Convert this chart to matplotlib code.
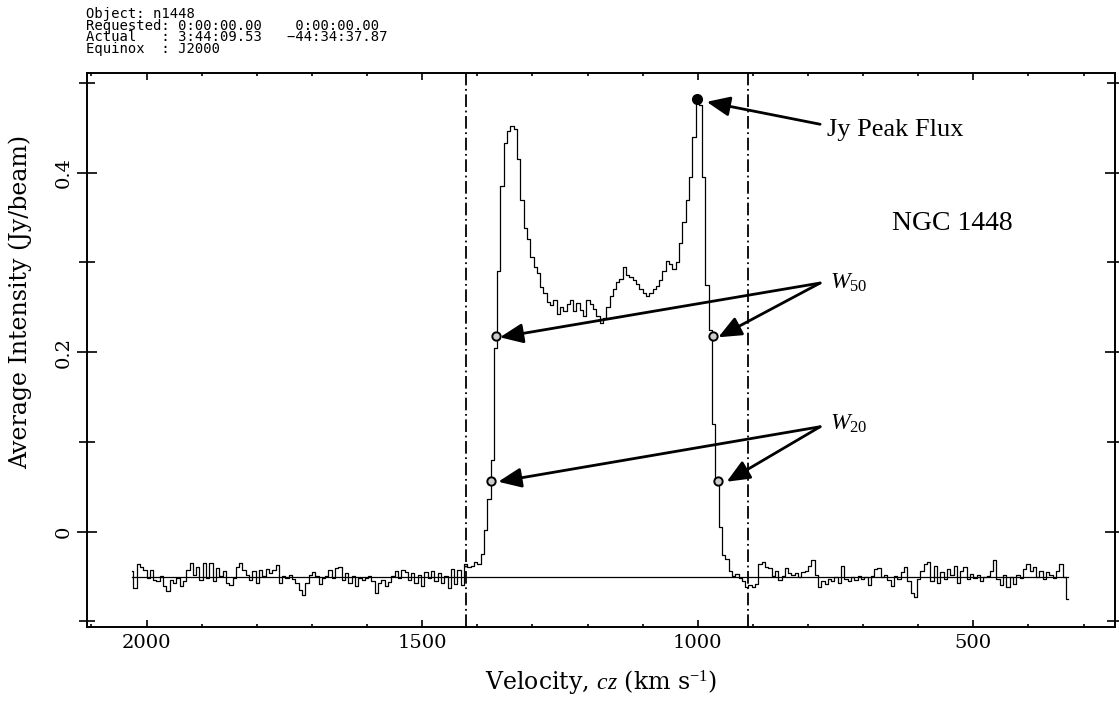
import numpy as np
import matplotlib.pyplot as plt

plt.rcParams['mathtext.fontset'] = 'custom'
plt.rcParams['mathtext.rm'] = 'Liberation Serif'
plt.rcParams['mathtext.it'] = 'Liberation Serif:italic'

# HI spectrum of NGC 1448, 6 km/s channels starting at 2027 km/s
v_first = 2027.0
dv = 6.0

# line-free channels on the high-velocity side (2027 -> 1427 km/s)
base_high = [
    -0.044, -0.063, -0.036, -0.039, -0.043, -0.052, -0.043, -0.054, -0.055, -0.050,
    -0.061, -0.066, -0.054, -0.057, -0.052, -0.061, -0.055, -0.043, -0.035, -0.048,
    -0.039, -0.054, -0.035, -0.052, -0.035, -0.055, -0.041, -0.050, -0.044, -0.057,
    -0.060, -0.052, -0.039, -0.035, -0.043, -0.048, -0.054, -0.044, -0.057, -0.043,
    -0.050, -0.042, -0.046, -0.043, -0.037, -0.057, -0.050, -0.052, -0.048, -0.053,
    -0.057, -0.065, -0.071, -0.057, -0.048, -0.045, -0.050, -0.059, -0.052, -0.050,
    -0.043, -0.052, -0.041, -0.040, -0.054, -0.046, -0.057, -0.050, -0.061, -0.052,
    -0.054, -0.052, -0.050, -0.055, -0.068, -0.057, -0.054, -0.061, -0.056, -0.050,
    -0.044, -0.052, -0.043, -0.045, -0.054, -0.046, -0.057, -0.048, -0.061, -0.045,
    -0.052, -0.044, -0.055, -0.046, -0.057, -0.050, -0.063, -0.042, -0.059, -0.043,
    -0.060,
]

# the double-horned profile (1421 -> 911 km/s)
profile = [
    -0.036, -0.040, -0.038, -0.034, -0.036, -0.025, 0.002, 0.036, 0.080, 0.205,
    0.290, 0.385, 0.433, 0.446, 0.452, 0.449, 0.415, 0.370, 0.338, 0.326,
    0.306, 0.295, 0.288, 0.273, 0.266, 0.256, 0.252, 0.258, 0.243, 0.250,
    0.246, 0.254, 0.258, 0.246, 0.255, 0.247, 0.240, 0.258, 0.254, 0.248,
    0.240, 0.232, 0.238, 0.250, 0.262, 0.270, 0.278, 0.282, 0.295, 0.286,
    0.284, 0.280, 0.276, 0.270, 0.266, 0.262, 0.266, 0.270, 0.274, 0.280,
    0.290, 0.302, 0.298, 0.293, 0.300, 0.322, 0.345, 0.370, 0.395, 0.440,
    0.482, 0.476, 0.395, 0.275, 0.225, 0.120, 0.060, 0.005, -0.026, -0.031,
    -0.044, -0.050, -0.047, -0.052, -0.055, -0.062,
]

# line-free channels on the low-velocity side (905 -> 329 km/s)
base_low = [
    -0.060, -0.062, -0.058, -0.036, -0.034, -0.039, -0.041, -0.050, -0.044, -0.054,
    -0.050, -0.041, -0.046, -0.048, -0.046, -0.051, -0.045, -0.044, -0.038, -0.032,
    -0.049, -0.062, -0.055, -0.058, -0.053, -0.055, -0.051, -0.057, -0.038, -0.053,
    -0.055, -0.051, -0.054, -0.050, -0.053, -0.051, -0.060, -0.050, -0.042, -0.041,
    -0.051, -0.049, -0.054, -0.061, -0.050, -0.053, -0.045, -0.039, -0.055, -0.068,
    -0.073, -0.053, -0.044, -0.036, -0.034, -0.055, -0.038, -0.057, -0.045, -0.053,
    -0.042, -0.049, -0.038, -0.057, -0.044, -0.039, -0.053, -0.047, -0.052, -0.049,
    -0.055, -0.051, -0.050, -0.044, -0.032, -0.053, -0.060, -0.049, -0.062, -0.051,
    -0.058, -0.048, -0.052, -0.042, -0.036, -0.044, -0.040, -0.051, -0.044, -0.053,
    -0.045, -0.049, -0.052, -0.044, -0.036, -0.051, -0.075,
]

baseline = -0.051
window = [1420, 909]          # velocity range used for the fit
peak_vel, peak_flux = 1001, 0.482
w50_vel = [1366.7, 973.0]
w50_flux = 0.218
w20_vel = [1375.8, 964.0]
w20_flux = 0.056

header = ("Object: n1448\n"
          "Requested: 0:00:00.00    0:00:00.00\n"
          "Actual   : 3:44:09.53   \u221244:34:37.87\n"
          "Equinox  : J2000")

flux = np.array(base_high + profile + base_low)
vel = v_first - dv * np.arange(flux.size)

W, H = 1119, 702
fig = plt.figure(figsize=(W / 100, H / 100), dpi=100)
ax = fig.add_axes([86.5 / W, 1 - 626.7 / H, (1115 - 86.5) / W, (626.7 - 73.3) / H])

ax.plot(vel, flux, drawstyle='steps-mid', color='k', lw=0.9)
ax.plot([vel[0], vel[-1]], [baseline, baseline], color='k', lw=0.9)
for v in window:
    ax.axvline(v, color='k', lw=1.3, ls=(0, (7, 2, 1, 2)))

# measured points
ax.plot(peak_vel, peak_flux, 'o', ms=7, mfc='k', mec='k', zorder=5)
ax.plot(w50_vel, [w50_flux] * 2, 'o', ms=6, mfc='0.8', mec='k', mew=1.4, zorder=5)
ax.plot(w20_vel, [w20_flux] * 2, 'o', ms=6, mfc='0.8', mec='k', mew=1.4, zorder=5)

ax.set_xlim(2109, 243)
ax.set_ylim(-0.1061, 0.5108)

# arrows and labels
arrow_kw = dict(arrowstyle='-|>,head_length=0.7,head_width=0.3', color='k',
                lw=2, shrinkA=0, shrinkB=0, mutation_scale=20)
ax.annotate('', xy=(983.8, 0.479), xytext=(778, 0.454), arrowprops=arrow_kw)
for tip in [1359, 962.8]:
    ax.annotate('', xy=(tip, 0.2165), xytext=(778, 0.277), arrowprops=arrow_kw)
for tip in [1362, 947.6]:
    ax.annotate('', xy=(tip, 0.0555), xytext=(778, 0.1168), arrowprops=arrow_kw)

serif = 'Liberation Serif'
ax.text(766, 0.448, 'Jy Peak Flux', fontsize=19, family=serif, va='center')
ax.text(648, 0.3436, 'NGC 1448', fontsize=20, family=serif, va='center')
ax.text(760, 0.2786, r'$W_{50}$', fontsize=17, va='center')
ax.text(760, 0.1206, r'$W_{20}$', fontsize=17, va='center')

# axes, ticks
ax.set_xticks([2000, 1500, 1000, 500])
ax.set_xticks(np.arange(300, 2101, 100), minor=True)
ax.set_yticks([0, 0.2, 0.4])
ax.set_yticklabels(['0', '0.2', '0.4'])
ax.set_yticks([-0.1, 0.1, 0.3, 0.5], minor=True)
ax.tick_params(axis='x', which='both', direction='in', top=True, bottom=True,
               width=1.2, pad=5, labelsize=14)
ax.tick_params(axis='x', which='major', length=5)
ax.tick_params(axis='x', which='minor', length=2.5)
ax.tick_params(axis='y', which='both', direction='inout', left=True, right=True,
               width=1.2, pad=3, labelsize=14, labelrotation=90)
ax.tick_params(axis='y', which='major', length=14)
ax.tick_params(axis='y', which='minor', length=12)
for lab in ax.get_xticklabels() + ax.get_yticklabels():
    lab.set_family('DejaVu Serif')
for lab in ax.get_yticklabels():
    lab.set_va('center')
for sp in ax.spines.values():
    sp.set_linewidth(1.4)

ax.set_xlabel(r'Velocity, $cz$ (km s$^{-1}$)', fontsize=17, family='DejaVu Serif')
ax.xaxis.set_label_coords(0.5, -0.0999)
ax.xaxis.label.set_va('center')
ax.set_ylabel('Average Intensity (Jy/beam)', fontsize=17, family='DejaVu Serif')
ax.yaxis.set_label_coords(-0.0640, 0.5867)
ax.yaxis.label.set_va('center')

# observation header, one block so the columns line up
fig.text(86 / W, 1 - 7 / H, header, fontsize=10, family='DejaVu Sans Mono',
         va='top', ha='left', linespacing=0.78)

fig.savefig('out.png', dpi=100)
